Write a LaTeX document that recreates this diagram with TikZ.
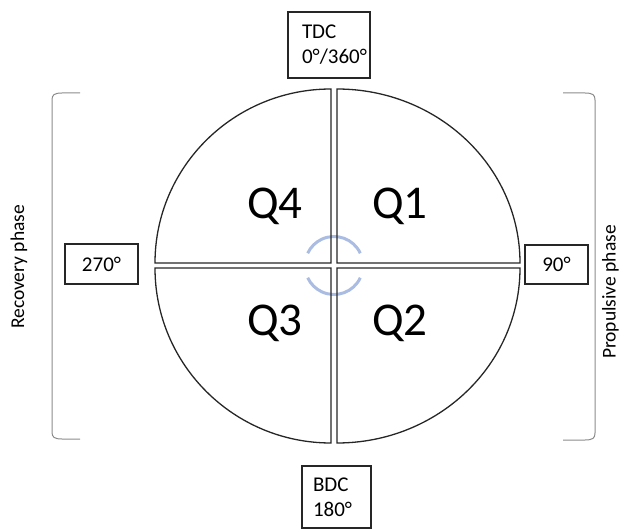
\documentclass[tikz,border=0pt]{standalone}
\usepackage{fontspec}
\setmainfont{Carlito}
\definecolor{turnblue}{RGB}{170,188,226}
\begin{document}
\begin{tikzpicture}[x=1pt,y=-1pt,
  sector/.style={draw=black!85, line width=1.3pt},
  anglebox/.style={draw=black!85, line width=1.4pt, inner sep=0pt, align=left, font=\fontsize{21}{25}\selectfont},
  qlabel/.style={font=\fontsize{47}{50}\selectfont, inner sep=0pt},
  phase/.style={font=\fontsize{19.5}{22}\selectfont, rotate=90, inner sep=0pt},
  bracket/.style={draw=black!45, line width=1pt},
  turn/.style={draw=turnblue, line width=3pt}]
\useasboundingbox (0,0) rectangle (622,532);
% rotation marks at the centre
\draw[turn] (334,265.5) ++(-25:29) arc[start angle=-25, end angle=-155, radius=29];
\draw[turn] (334,265.5) ++(25:29) arc[start angle=25, end angle=155, radius=29];
% four quarter sectors
\draw[sector] (337,263) -- (337,89) arc[start angle=-90, end angle=0, x radius=183, y radius=174] -- cycle;
\draw[sector] (331,263) -- (331,89) arc[start angle=-90, end angle=-180, x radius=176, y radius=174] -- cycle;
\draw[sector] (331,268) -- (331,443) arc[start angle=90, end angle=180, x radius=176, y radius=175] -- cycle;
\draw[sector] (337,268) -- (337,443) arc[start angle=90, end angle=0, x radius=183, y radius=175] -- cycle;
% quadrant labels
\node[qlabel] (q4) at (275,206) {Q4};
\node[qlabel] (q1) at (400,206) {Q1};
\node[qlabel] (q3) at (275,323) {Q3};
\node[qlabel] (q2) at (400,323) {Q2};
% angle boxes
\node[anglebox, minimum width=82pt, minimum height=66pt, text width=54pt] (tdc) at (329,45) {TDC\\0°/360°};
\node[anglebox, minimum width=69pt, minimum height=62pt, text width=47pt] (bdc) at (336.5,497) {BDC\\180°};
\node[anglebox, minimum width=73pt, minimum height=40pt, align=center] (a270) at (101.5,264) {270°};
\node[anglebox, minimum width=63pt, minimum height=39pt, align=center] (a90) at (556.5,264.5) {90°};
% brackets
\coordinate (lt) at (80,93);
\coordinate (lb) at (80,439);
\coordinate (rt) at (563,93);
\coordinate (rb) at (563,440);
\draw[bracket] (lt) -- (62,93) .. controls (54,93) and (52,95) .. (52,100) -- (52,432) .. controls (52,437) and (54,439) .. (62,439) -- (lb);
\draw[bracket] (rt) -- (585,93) .. controls (593,93) and (595,95) .. (595,100) -- (595,433) .. controls (595,438) and (593,440) .. (585,440) -- (rb);
% phase labels
\node[phase] (rec) at (19,267) {Recovery phase};
\node[phase] (pro) at (610.5,292) {Propulsive phase};
\end{tikzpicture}
\end{document}
